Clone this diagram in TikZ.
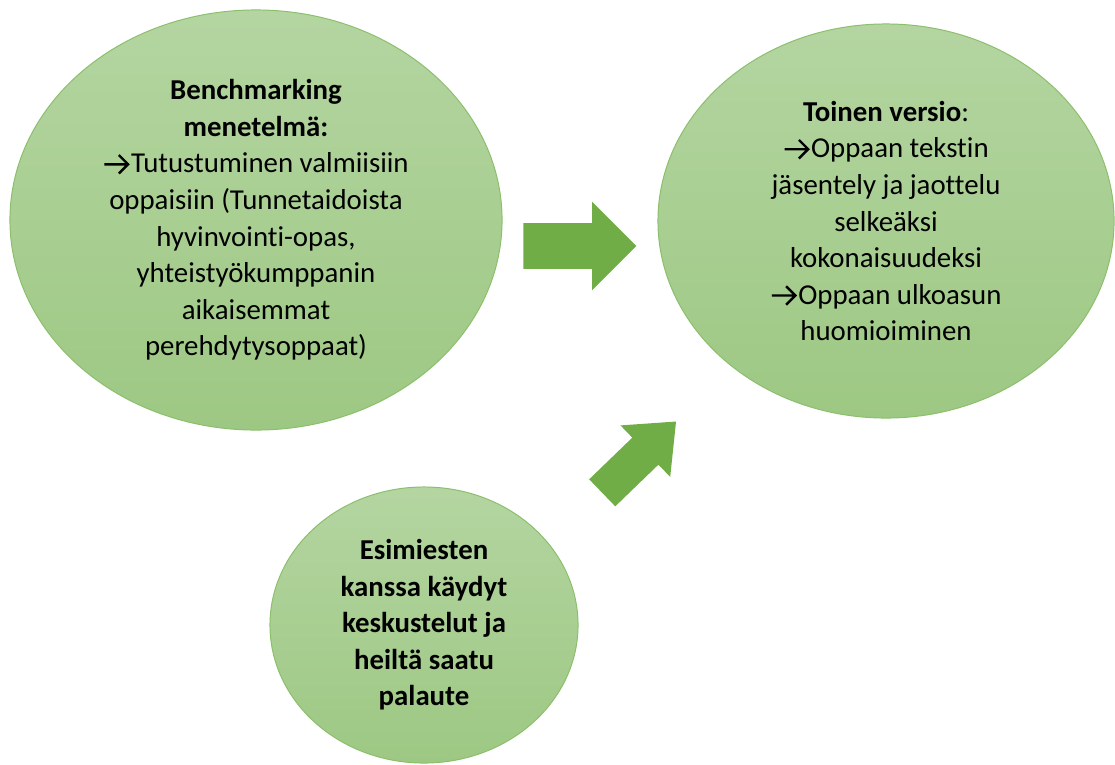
\documentclass[tikz,border=0pt]{standalone}
\usepackage{fontspec}
\setmainfont[Ligatures=NoCommon]{Carlito}
\usetikzlibrary{shapes.geometric, shapes.arrows, shadings}

\definecolor{leaftop}{HTML}{B4D5A1}
\definecolor{leafbot}{HTML}{9DC883}
\definecolor{leafline}{HTML}{8CBF6C}
\definecolor{arrowgreen}{HTML}{70AD47}

% small arrow in front of the list lines
\newcommand{\toarr}{\tikz[baseline=0pt]\draw[black, line width=1.7pt, line join=miter] (0,0.3em) -- (0.82em,0.3em) (0.5em,0.62em) -- (0.82em,0.3em) -- (0.5em,-0.02em);\kern0.06em}

\begin{document}
\begin{tikzpicture}[x=0.025cm, y=-0.025cm,
	bubble/.style={ellipse, inner sep=0pt, align=center, top color=leaftop, bottom color=leafbot, draw=leafline, line width=0.7pt, font=\fontsize{20.5}{26}\selectfont},
	blockarrow/.style={single arrow, fill=arrowgreen, draw=none, inner xsep=0pt, anchor=tail}]

	\useasboundingbox (0,0) rectangle (1115,764);

	\node[bubble, minimum width=12.3cm, minimum height=10.5cm] (bench) at (256,220) {\textbf{Benchmarking}\\ \textbf{menetelmä:}\\ \toarr Tutustuminen valmiisiin\\ oppaisiin (Tunnetaidoista\\ hyvinvointi-opas,\\ yhteistyökumppanin\\ aikaisemmat\\ perehdytysoppaat)};

	\node[bubble, minimum width=11.4cm, minimum height=9.85cm] (versio) at (886,221) {\textbf{Toinen versio}:\\ \toarr Oppaan tekstin\\ jäsentely ja jaottelu\\ selkeäksi\\ kokonaisuudeksi\\ \toarr Oppaan ulkoasun\\ huomioiminen};

	\node[bubble, minimum width=7.7cm, minimum height=6.9cm] (esimies) at (424,625) {\textbf{Esimiesten}\\ \textbf{kanssa käydyt}\\ \textbf{keskustelut ja}\\ \textbf{heiltä saatu}\\ \textbf{palaute}};

	% block arrows towards the second version
	\node[blockarrow, inner ysep=0.5625cm, single arrow head extend=0.5375cm, minimum height=2.825cm, single arrow tip angle=90] (toversio) at (523,246) {};
	\node[blockarrow, inner ysep=0.4625cm, single arrow head extend=0.425cm, minimum height=2.565cm, single arrow tip angle=80, rotate=44] (fromesimies) at (602,493) {};

\end{tikzpicture}
\end{document}
